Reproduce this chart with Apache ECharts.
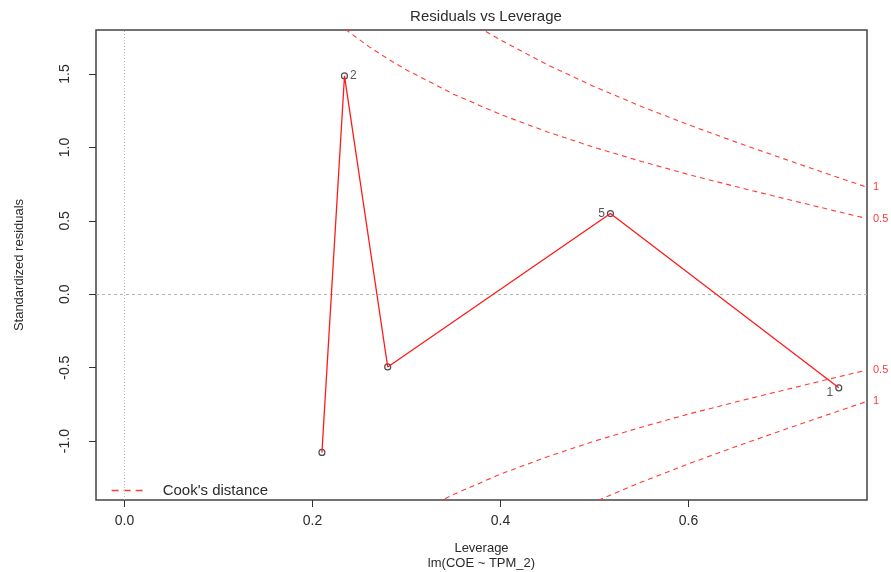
<!DOCTYPE html>
<html>
<head>
<meta charset="utf-8">
<script src="https://cdn.jsdelivr.net/npm/echarts@6/dist/echarts.min.js"></script>
<style>
  html, body { margin: 0; padding: 0; background: #fff; }
  #chart { width: 891px; height: 572px; }
</style>
</head>
<body>
<div id="chart"></div>
<script>
// Observations (leverage, standardized residual), ordered by leverage
const leverage = [0.21, 0.234, 0.28, 0.517, 0.76];
const stdResid = [-1.077, 1.487, -0.495, 0.55, -0.637];
const obsLabels = ['', '2', '', '5', '1'];
const obsLabelSide = ['right', 'right', 'right', 'left', 'left'];

// Cook's distance contours
const cookH05 = [0.22, 0.24, 0.26, 0.28, 0.30, 0.35, 0.40, 0.45, 0.50, 0.55, 0.60, 0.65, 0.70, 0.75, 0.79];
const cookR05 = [1.883, 1.780, 1.687, 1.604, 1.528, 1.363, 1.225, 1.106, 1.000, 0.905, 0.816, 0.734, 0.655, 0.577, 0.516];
const cookH1 = [0.36, 0.38, 0.40, 0.45, 0.50, 0.55, 0.60, 0.65, 0.70, 0.75, 0.79];
const cookR1 = [1.886, 1.806, 1.732, 1.563, 1.414, 1.279, 1.155, 1.038, 0.926, 0.816, 0.729];

// Axes
const xTicks = [0, 0.2, 0.4, 0.6];
const yTicks = [-1, -0.5, 0, 0.5, 1, 1.5];
const xRange = [-0.0304, 0.79];
const yRange = [-1.401, 1.80];

const cookColor = '#ff3b3b';
const textColor = '#2b2b2b';
const cookName = "Cook's distance";

function cookSeries(hs, rs, sign, label) {
  return {
    name: cookName,
    type: 'line',
    data: hs.map((h, i) => [h, sign * rs[i]]),
    showSymbol: false,
    symbol: 'none',
    clip: true,
    silent: true,
    z: 3,
    lineStyle: { color: cookColor, width: 1.1, type: [5, 4] },
    itemStyle: { color: cookColor },
    endLabel: {
      show: true,
      formatter: label,
      color: cookColor,
      fontSize: 11,
      fontFamily: 'Liberation Sans, Arial, sans-serif',
      distance: 6
    }
  };
}

const chart = echarts.init(document.getElementById('chart'), null, { renderer: 'canvas' });

const option = {
  animation: false,
  backgroundColor: '#fff',
  textStyle: { fontFamily: 'Liberation Sans, Arial, sans-serif' },
  title: {
    text: 'Residuals vs Leverage',
    left: 481,
    top: 4,
    textAlign: 'center',
    textStyle: { fontSize: 15, fontWeight: 'normal', color: textColor, fontFamily: 'Liberation Sans, Arial, sans-serif' }
  },
  legend: {
    data: [cookName],
    left: 106,
    top: 478,
    itemWidth: 34,
    itemHeight: 10,
    itemStyle: { opacity: 0 },
    lineStyle: { color: cookColor, width: 1.3, type: [7, 5] },
    textStyle: { fontSize: 15, color: textColor, padding: [0, 0, 0, 12] }
  },
  grid: {
    left: 96, right: 24, top: 30, bottom: 72,
    outerBoundsMode: 'none',
    containLabel: false,
    show: true,
    borderColor: '#444',
    borderWidth: 1.5,
    backgroundColor: 'transparent'
  },
  xAxis: {
    type: 'value',
    min: xRange[0],
    max: xRange[1],
    name: 'Leverage\nlm(COE ~ TPM_2)',
    nameLocation: 'middle',
    nameGap: 41,
    nameTextStyle: { fontSize: 13, color: textColor, lineHeight: 15 },
    axisLine: { show: false, onZero: false },
    splitLine: { show: false },
    axisTick: { show: true, length: 7, inside: false, customValues: xTicks, lineStyle: { color: '#333', width: 1 } },
    axisLabel: {
      customValues: xTicks,
      formatter: v => v.toFixed(1),
      fontSize: 14,
      color: textColor,
      margin: 14
    }
  },
  yAxis: {
    type: 'value',
    min: yRange[0],
    max: yRange[1],
    name: 'Standardized residuals',
    nameLocation: 'middle',
    nameGap: 70,
    nameTextStyle: { fontSize: 13, color: textColor },
    axisLine: { show: false, onZero: false },
    splitLine: { show: false },
    axisTick: { show: true, length: 7, inside: false, customValues: yTicks, lineStyle: { color: '#333', width: 1 } },
    axisLabel: {
      customValues: yTicks,
      formatter: v => v.toFixed(1),
      rotate: 90,
      fontSize: 14,
      color: textColor,
      margin: 24
    }
  },
  series: [
    {
      name: 'points',
      type: 'scatter',
      data: leverage.map((h, i) => ({
        value: [h, stdResid[i]],
        label: {
          show: obsLabels[i] !== '',
          formatter: obsLabels[i],
          position: obsLabelSide[i],
          distance: 2,
          offset: i === 4 ? [0, 5] : [0, 0]
        }
      })),
      symbol: 'circle',
      symbolSize: 6,
      itemStyle: { color: 'rgba(0,0,0,0)', borderColor: '#222', borderWidth: 1.2 },
      label: { fontSize: 12, color: textColor },
      z: 4,
      markLine: {
        silent: true,
        symbol: ['none', 'none'],
        label: { show: false },
        data: [
          { xAxis: 0, lineStyle: { color: '#b5b5b5', type: [1, 2], width: 1 } },
          { yAxis: 0, lineStyle: { color: '#b5b5b5', type: [3, 3], width: 1 } }
        ]
      }
    },
    {
      name: 'smooth',
      type: 'line',
      data: leverage.map((h, i) => [h, stdResid[i]]),
      showSymbol: false,
      symbol: 'none',
      z: 5,
      lineStyle: { color: '#ff1a1a', width: 1.3 },
      itemStyle: { color: '#ff1a1a' }
    },
    cookSeries(cookH05, cookR05, 1, '0.5'),
    cookSeries(cookH1, cookR1, 1, '1'),
    cookSeries(cookH05, cookR05, -1, '0.5'),
    cookSeries(cookH1, cookR1, -1, '1')
  ]
};

chart.setOption(option);
</script>
</body>
</html>
